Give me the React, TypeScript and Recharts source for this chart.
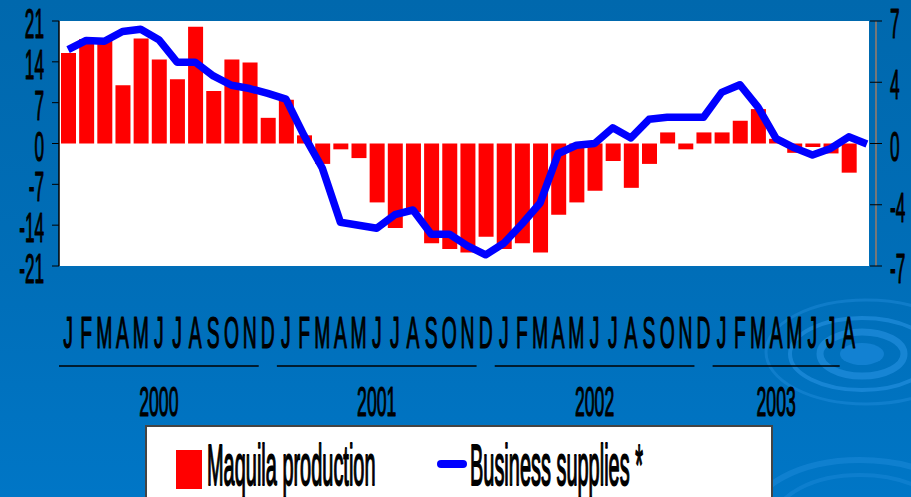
import React from "react";
import { ComposedChart, Bar, Line, XAxis, YAxis } from "recharts";

// monthly, Jan 2000 .. Aug 2003 (+ one trailing point for the line)
const MONTHS = [
  "J", "F", "M", "A", "M", "J", "J", "A", "S", "O", "N", "D",
  "J", "F", "M", "A", "M", "J", "J", "A", "S", "O", "N", "D",
  "J", "F", "M", "A", "M", "J", "J", "A", "S", "O", "N", "D",
  "J", "F", "M", "A", "M", "J", "J", "A", "",
];

// Maquila production, % yoy (left axis)
const MAQUILA = [
  15.5, 17.9, 17.6, 10.0, 18.0, 14.4, 11.0, 20.0, 9.0, 14.4, 13.9, 4.4,
  7.5, 1.4, -3.5, -1.0, -2.5, -10.1, -14.5, -11.8, -17.1, -18.1, -18.7, -16.0,
  -18.1, -17.1, -18.7, -12.2, -10.1, -8.1, -3.0, -7.6, -3.5, 1.9, -1.0, 1.9,
  1.9, 3.9, 5.9, 0.8, -1.6, -0.6, -1.7, -5.0, null,
];

// Business supplies * (right axis)
const SUPPLIES = [
  5.37, 5.89, 5.84, 6.4, 6.53, 5.93, 4.65, 4.65, 3.86, 3.33, 3.14, 2.86,
  2.54, 0.45, -1.4, -4.5, -4.67, -4.84, -4.07, -3.8, -5.18, -5.18, -5.85, -6.36,
  -5.7, -4.6, -3.4, -0.57, -0.1, 0.0, 0.9, 0.32, 1.38, 1.5, 1.5, 1.5,
  2.92, 3.36, 2.08, 0.28, -0.25, -0.66, -0.28, 0.38, -0.03,
];

const YEARS = ["2000", "2001", "2002", "2003"];
const LEFT_TICKS = [-21, -14, -7, 0, 7, 14, 21];
const RIGHT_TICKS = [-7, -3.5, 0, 3.5, 7];

const SERIES_BAR = "Maquila production";
const SERIES_LINE = "Business supplies *";

const data = MONTHS.map((m, i) => ({
  month: m,
  maquila: MAQUILA[i],
  supplies: SUPPLIES[i],
}));

// layout
const W = 911;
const H = 497;
const PLOT_L = 59;
const PLOT_R = 876;
const PLOT_T = 21;
const PLOT_B = 266;
const STEP = (PLOT_R - PLOT_L) / MONTHS.length;
const FONT = "'Liberation Sans', Arial, sans-serif";

// where the year captions / underlines sit (category indices)
const YEAR_LABEL_AT = [5, 17, 29, 39];
const YEAR_LINE_FROM = [0, 12, 24, 36];
const YEAR_LINE_LEN = [11, 11, 11, 7];

const roundAway = (v: number) => (v < 0 ? "-" : "") + Math.round(Math.abs(v));

// condensed, slightly heavy text like the slide's narrow font
const txt = { fontFamily: FONT, fill: "#000", stroke: "#000", strokeWidth: 1.2, strokeLinejoin: "round" as const };

const LeftTick = (props: any) => {
  const { x, y, payload } = props;
  return (
    <text transform={`translate(${x},${y + 17}) scale(0.4,1)`} textAnchor="end" fontSize={43} {...txt}>
      {roundAway(payload.value)}
    </text>
  );
};

const RightTick = (props: any) => {
  const { x, y, payload } = props;
  return (
    <g>
      <line x1={PLOT_R - 6} x2={PLOT_R} y1={y} y2={y} stroke="#000" strokeWidth={1} />
      <text transform={`translate(${x},${y + 17}) scale(0.4,1)`} textAnchor="start" fontSize={43} {...txt}>
        {roundAway(payload.value)}
      </text>
    </g>
  );
};

const MonthTick = (props: any) => {
  const { x, payload } = props;
  const idx = props.index ?? payload.index;
  const yi = YEAR_LABEL_AT.indexOf(idx);
  const li = YEAR_LINE_FROM.indexOf(idx);
  return (
    <g>
      <text transform={`translate(${x},348) scale(0.44,1)`} textAnchor="middle" fontSize={44} {...txt}>
        {payload.value}
      </text>
      {li >= 0 && (
        <line
          x1={x - STEP / 2}
          x2={x - STEP / 2 + YEAR_LINE_LEN[li] * STEP}
          y1={366}
          y2={366}
          stroke="#000"
          strokeWidth={1.5}
        />
      )}
      {yi >= 0 && (
        <text transform={`translate(${x},416) scale(0.41,1)`} textAnchor="middle" fontSize={43} {...txt}>
          {YEARS[yi]}
        </text>
      )}
    </g>
  );
};

export default function App() {
  return (
    <div
      style={{
        position: "absolute",
        left: 0,
        top: 0,
        width: W,
        height: H,
        overflow: "hidden",
        background: "linear-gradient(180deg, #0068ad 0%, #006eb8 55%, #0076c6 100%)",
      }}
    >
      {/* ripple decoration */}
      <svg width={W} height={H} style={{ position: "absolute", left: 0, top: 0 }}>
        <g fill="none" stroke="#2a95e6" strokeOpacity={0.55}>
          <ellipse cx={862} cy={354} rx={22} ry={11} fill="#1e8ce0" fillOpacity={0.6} stroke="none" />
          <ellipse cx={862} cy={354} rx={42} ry={22} strokeWidth={7} />
          <ellipse cx={862} cy={354} rx={72} ry={36} strokeWidth={4} />
          <ellipse cx={866} cy={352} rx={100} ry={52} strokeWidth={3} strokeOpacity={0.35} />
          <ellipse cx={860} cy={520} rx={110} ry={60} strokeWidth={6} strokeOpacity={0.35} />
          <ellipse cx={860} cy={520} rx={85} ry={45} strokeWidth={4} strokeOpacity={0.3} />
        </g>
      </svg>

      {/* plot background */}
      <div
        style={{
          position: "absolute",
          left: PLOT_L,
          top: PLOT_T,
          width: 869 - PLOT_L,
          height: PLOT_B - PLOT_T,
          background: "#ffffff",
        }}
      />

      <div style={{ position: "absolute", left: 0, top: 0 }}>
        <ComposedChart
          width={W}
          height={H}
          data={data}
          margin={{ top: PLOT_T, right: 0, left: 0, bottom: 0 }}
          barCategoryGap={0}
        >
          <XAxis
            dataKey="month"
            interval={0}
            axisLine={false}
            tickLine={false}
            height={H - PLOT_B}
            tick={<MonthTick />}
          />
          <YAxis
            yAxisId="left"
            domain={[-21, 21]}
            ticks={LEFT_TICKS}
            width={PLOT_L}
            axisLine={{ stroke: "#000", strokeWidth: 1.5 }}
            tickLine={{ stroke: "#000" }}
            tickSize={7}
            tickMargin={8}
            tick={<LeftTick />}
            allowDataOverflow
          />
          <YAxis
            yAxisId="right"
            orientation="right"
            domain={[-7, 7]}
            ticks={RIGHT_TICKS}
            width={W - PLOT_R}
            axisLine={{ stroke: "#777", strokeWidth: 2 }}
            tickLine={{ stroke: "#000" }}
            tickSize={6}
            tickMargin={8}
            tick={<RightTick />}
            allowDataOverflow
          />
          <Bar yAxisId="left" dataKey="maquila" name={SERIES_BAR} fill="#ff0000" barSize={15} isAnimationActive={false} />
          <Line
            yAxisId="right"
            dataKey="supplies"
            name={SERIES_LINE}
            type="linear"
            stroke="#0000ff"
            strokeWidth={7.5}
            strokeLinejoin="round"
            dot={false}
            activeDot={false}
            isAnimationActive={false}
          />
        </ComposedChart>
      </div>

      {/* legend */}
      <svg width={628} height={75} style={{ position: "absolute", left: 145, top: 425 }}>
        <rect x={1} y={1} width={626} height={90} fill="#ffffff" stroke="#444" strokeWidth={2} />
        <rect x={31} y={25} width={26} height={39} fill="#ff0000" />
        <text transform="translate(62,60) scale(0.35,1)" fontSize={57} {...txt} strokeWidth={1.8}>
          {SERIES_BAR}
        </text>
        <line x1={296} x2={318} y1={39} y2={39} stroke="#0000ff" strokeWidth={8} strokeLinecap="round" />
        <text transform="translate(325,60) scale(0.35,1)" fontSize={57} {...txt} strokeWidth={1.8}>
          {SERIES_LINE}
        </text>
      </svg>
    </div>
  );
}
